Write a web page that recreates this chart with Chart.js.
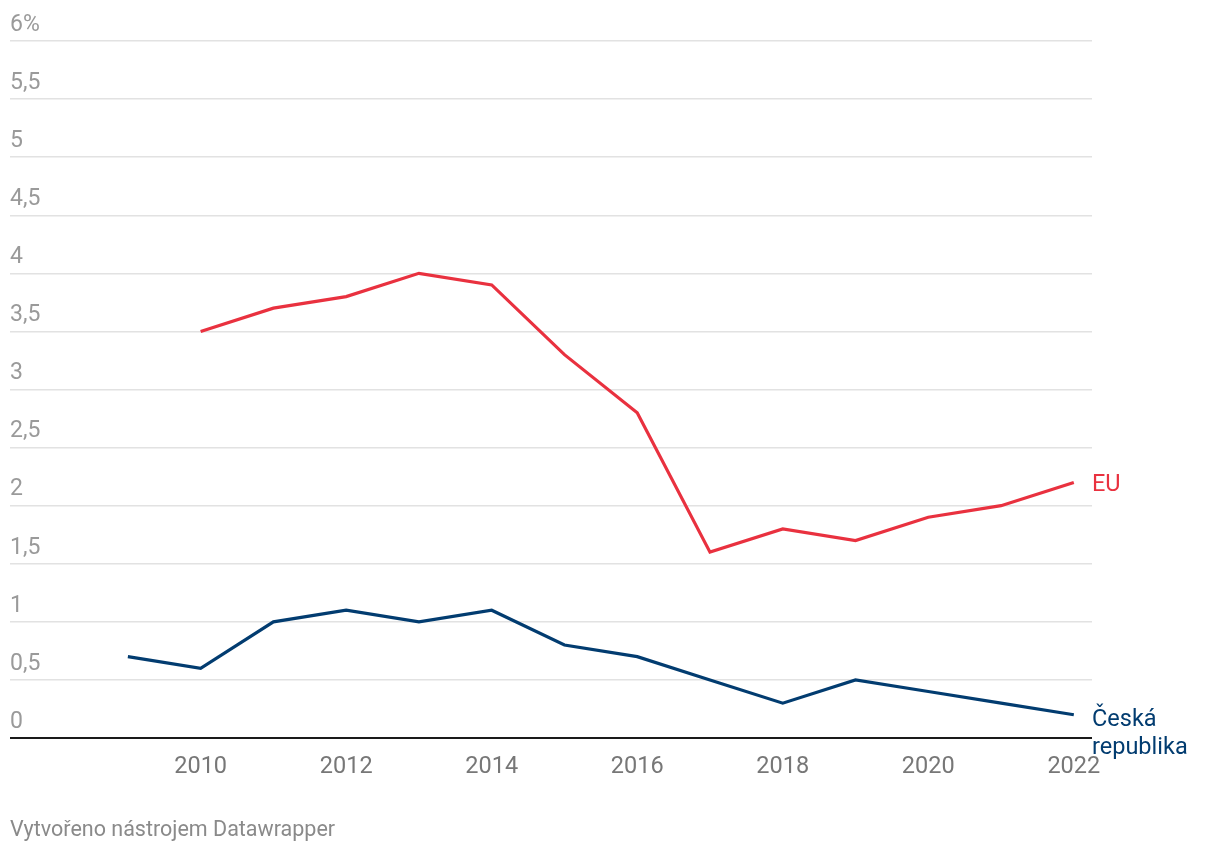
<!DOCTYPE html>
<html>
<head>
<meta charset="utf-8">
<script src="https://cdn.jsdelivr.net/npm/chart.js@4"></script>
<style>
  html, body { margin: 0; padding: 0; background: #fff; }
  #wrap { position: relative; width: 1220px; height: 854px; }
  #note {
    position: absolute; left: 10px; top: 816px;
    font-family: Roboto, sans-serif; font-size: 21.5px; color: #8a8a8a;
  }
</style>
</head>
<body>
<div id="wrap">
  <canvas id="chart" width="1220" height="854"></canvas>
  <div id="note">Vytvořeno nástrojem Datawrapper</div>
</div>
<script>
// data
const years = [2009, 2010, 2011, 2012, 2013, 2014, 2015, 2016, 2017, 2018, 2019, 2020, 2021, 2022];
const euValues = [null, 3.5, 3.7, 3.8, 4.0, 3.9, 3.3, 2.8, 1.6, 1.8, 1.7, 1.9, 2.0, 2.2];
const czValues = [0.7, 0.6, 1.0, 1.1, 1.0, 1.1, 0.8, 0.7, 0.5, 0.3, 0.5, 0.4, 0.3, 0.2];
const xTicks = [2010, 2012, 2014, 2016, 2018, 2020, 2022];
const seriesNames = ['EU', ['Česká', 'republika']];

const red = '#e9313f';
const blue = '#023c70';

// names at the end of each line
const endLabels = {
  id: 'endLabels',
  afterDatasetsDraw(chart) {
    const ctx = chart.ctx;
    ctx.save();
    ctx.font = '23.5px Roboto';
    ctx.textAlign = 'left';
    ctx.textBaseline = 'middle';
    chart.data.datasets.forEach((ds, i) => {
      const meta = chart.getDatasetMeta(i);
      const pt = meta.data[meta.data.length - 1];
      const lines = [].concat(seriesNames[i]);
      ctx.fillStyle = ds.borderColor;
      lines.forEach((t, j) => {
        ctx.fillText(t, chart.chartArea.right, pt.y + (lines.length > 1 ? 5 : 3) + j * 28);
      });
    });
    ctx.restore();
  }
};

const toPoints = vals => years.map((yr, i) => ({ x: yr, y: vals[i] }));

new Chart(document.getElementById('chart'), {
  type: 'line',
  data: {
    datasets: [
      { data: toPoints(euValues), borderColor: red, borderWidth: 3.2, pointRadius: 0, tension: 0 },
      { data: toPoints(czValues), borderColor: blue, borderWidth: 3.2, pointRadius: 0, tension: 0 }
    ]
  },
  options: {
    responsive: false,
    animation: false,
    layout: { padding: { left: 10, right: 128, top: 41, bottom: 0 } },
    plugins: { legend: { display: false }, tooltip: { enabled: false } },
    scales: {
      x: {
        type: 'linear',
        min: 2007.38,
        max: 2022.25,
        afterBuildTicks: s => { s.ticks = xTicks.map(v => ({ value: v })); },
        afterFit: s => { s.height = 116; },
        grid: { display: false },
        border: { display: false },
        ticks: {
          padding: 7,
          color: '#777',
          font: { family: 'Roboto', size: 23.5 },
          callback: v => String(v)
        }
      },
      y: {
        min: 0,
        max: 6,
        afterFit: s => { s.width = 0; },
        border: { display: false },
        grid: {
          drawTicks: false,
          color: c => c.tick.value === 0 ? '#1a1a1a' : '#e2e2e2',
          lineWidth: c => c.tick.value === 0 ? 2 : 1.5
        },
        ticks: {
          stepSize: 0.5,
          mirror: true,
          padding: 0,
          labelOffset: -16,
          color: '#9a9a9a',
          font: { family: 'Roboto', size: 23 },
          callback: v => v === 6 ? '6%' : String(v).replace('.', ',')
        }
      }
    }
  },
  plugins: [endLabels]
});
</script>
</body>
</html>
